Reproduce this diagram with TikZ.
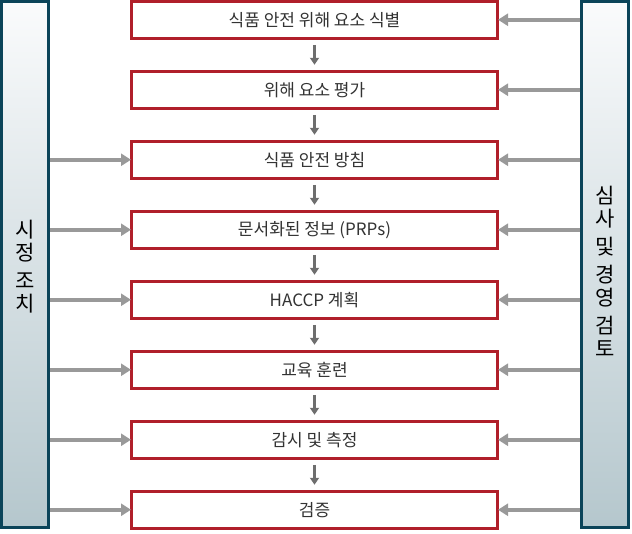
\documentclass[tikz,border=0pt]{standalone}
\usepackage{fontspec}
\setmainfont{Noto Sans CJK KR}
\usetikzlibrary{arrows.meta}
\definecolor{boxred}{HTML}{B01F2A}
\definecolor{bartea}{HTML}{0B4459}
\definecolor{bartop}{HTML}{FAFBFC}
\definecolor{barbot}{HTML}{B5C7CD}
\definecolor{sidearrow}{HTML}{999999}
\definecolor{downarrow}{HTML}{6E6E6E}
\definecolor{txt}{HTML}{333333}
\tikzset{
  stepbox/.style={draw=boxred, line width=3pt, fill=white, minimum width=366pt, minimum height=37pt, inner sep=0pt, text=txt, font=\fontsize{17pt}{20pt}\selectfont},
  sidebar/.style={draw=bartea, line width=3pt, top color=bartop, bottom color=barbot, minimum width=47pt, minimum height=526pt, inner sep=0pt},
  bartext/.style={align=center, inner sep=0pt, font=\fontsize{21pt}{23pt}\selectfont, text=black},
  sidearr/.style={draw=sidearrow, line width=4pt, -{Triangle[length=10pt,width=12pt]}, shorten >=-1pt},
  downarr/.style={draw=downarrow, line width=3pt, -{Triangle[length=7pt,width=9pt]}},
}
\begin{document}
\begin{tikzpicture}[x=1pt,y=-1pt]
\useasboundingbox (0,0) rectangle (632,533);
\node[sidebar] (L) at (25,264.5) {};
\node[sidebar] (R) at (605,264.5) {};
\node[bartext] (Lt) at ([yshift=-2pt]L.center) {시\\정\\[5pt]조\\치};
\node[bartext] (Rt) at ([yshift=-7pt]R.center) {심\\사\\[5pt]및\\[5pt]경\\영\\[5pt]검\\토};
\foreach \i/\t in {1/식품 안전 위해 요소 식별,2/위해 요소 평가,3/식품 안전 방침,4/문서화된 정보 (PRPs),5/HACCP 계획,6/교육 훈련,7/감시 및 측정,8/검증}{
  \node[stepbox] (b\i) at (314.5,{19.75+70*(\i-1)}) {\t};
}
\foreach \i in {1,...,8}{
  \draw[sidearr] (R.west |- b\i.east) -- (b\i.east);
}
\foreach \i in {3,...,8}{
  \draw[sidearr] (L.east |- b\i.west) -- (b\i.west);
}
\foreach \i/\j in {1/2,2/3,3/4,4/5,5/6,6/7,7/8}{
  \draw[downarr] ([yshift=-5pt]b\i.south) -- ([yshift=5pt]b\j.north);
}
\end{tikzpicture}
\end{document}
